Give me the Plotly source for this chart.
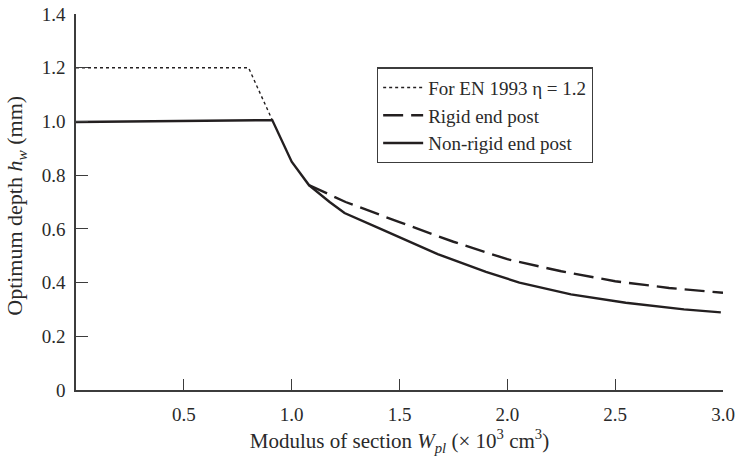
import plotly.graph_objects as go

# Optimum web-post depth versus plastic section modulus
x_en1993 = [0.0, 0.80, 0.91]
y_en1993 = [1.20, 1.20, 1.005]

x_rigid = [1.08, 1.25, 1.50, 1.75, 2.00, 2.25, 2.50, 2.75, 3.00]
y_rigid = [0.763, 0.700, 0.625, 0.552, 0.487, 0.442, 0.405, 0.380, 0.362]

x_nonrigid = [0.0, 0.91, 1.00, 1.08, 1.176, 1.245, 1.407, 1.677, 1.901, 2.056, 2.295, 2.549, 2.819, 2.99]
y_nonrigid = [0.998, 1.005, 0.850, 0.763, 0.700, 0.659, 0.602, 0.506, 0.440, 0.400, 0.356, 0.325, 0.300, 0.289]

x_tickvals = [0.5, 1.0, 1.5, 2.0, 2.5, 3.0]
x_ticktext = ["0.5", "1.0", "1.5", "2.0", "2.5", "3.0"]
y_tickvals = [0, 0.2, 0.4, 0.6, 0.8, 1.0, 1.2, 1.4]
y_ticktext = ["0", "0.2", "0.4", "0.6", "0.8", "1.0", "1.2", "1.4"]

ink = "#231f20"
axis_col = "#3c3c3c"
text_col = "#2a2a2a"
font_family = "Liberation Serif"

fig = go.Figure()
fig.add_trace(go.Scatter(
    x=x_en1993, y=y_en1993, mode="lines", name="For EN 1993 η = 1.2",
    line=dict(color=ink, width=1.4, dash="dot"),
))
fig.add_trace(go.Scatter(
    x=x_rigid, y=y_rigid, mode="lines", name="Rigid end post",
    line=dict(color=ink, width=2.4, dash="20px,8px"),
))
fig.add_trace(go.Scatter(
    x=x_nonrigid, y=y_nonrigid, mode="lines", name="Non-rigid end post",
    line=dict(color=ink, width=2.4),
))

fig.update_layout(
    width=736, height=459,
    margin=dict(l=76, r=13, t=14, b=69, autoexpand=False),
    paper_bgcolor="white", plot_bgcolor="white",
    font=dict(family=font_family, size=19, color=text_col),
    showlegend=True,
    legend=dict(
        x=0.465, y=0.858, xanchor="left", yanchor="top",
        bordercolor=axis_col, borderwidth=1.3, bgcolor="white",
        font=dict(family=font_family, size=19, color=text_col),
        tracegroupgap=0, itemwidth=40,
    ),
)

fig.update_xaxes(
    range=[0, 3.0], showgrid=False, zeroline=False,
    showline=True, linecolor=axis_col, linewidth=1.5,
    ticks="inside", ticklen=11, tickwidth=1.4, tickcolor=axis_col,
    tickvals=x_tickvals, ticktext=x_ticktext, ticklabelstandoff=6,
    tickfont=dict(size=19),
    title=dict(text="Modulus of section <i>W<sub>pl</sub></i> (× 10<sup>3</sup> cm<sup>3</sup>)",
               font=dict(size=21), standoff=10),
)
fig.update_yaxes(
    range=[0, 1.4], showgrid=False, zeroline=False,
    showline=True, linecolor=axis_col, linewidth=1.5,
    ticks="inside", ticklen=12, tickwidth=1.4, tickcolor=axis_col,
    tickvals=y_tickvals, ticktext=y_ticktext, ticklabelstandoff=5,
    tickfont=dict(size=19),
)

# Y-axis title as a rotated annotation to the left of the tick labels
fig.add_annotation(
    text="Optimum depth <i>h<sub>w</sub></i> (mm)",
    xref="paper", yref="paper", x=0, y=0.49,
    xanchor="center", yanchor="middle", xshift=-60,
    textangle=-90, showarrow=False,
    font=dict(family=font_family, size=22, color=text_col),
)

fig.write_html("out.html")
